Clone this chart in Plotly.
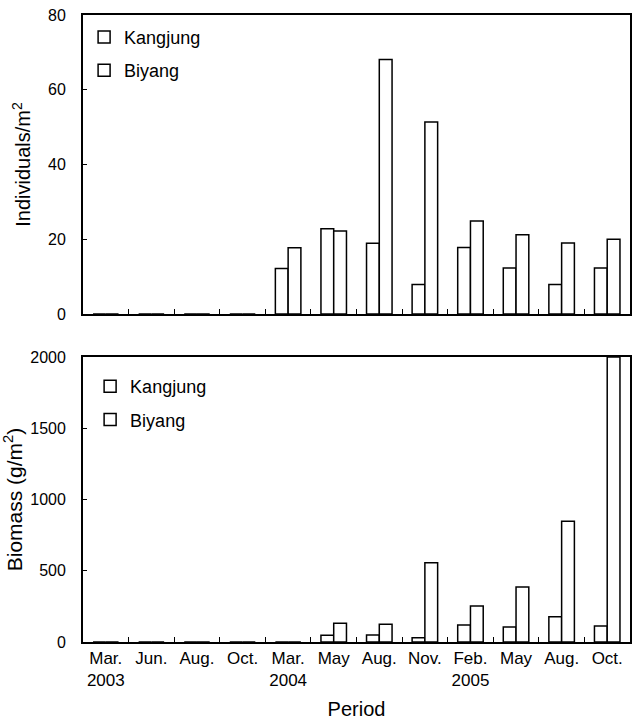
import plotly.graph_objects as go
from plotly.subplots import make_subplots

periods = ["Mar. 2003", "Jun. 2003", "Aug. 2003", "Oct. 2003", "Mar. 2004", "May 2004",
           "Aug. 2004", "Nov. 2004", "Feb. 2005", "May 2005", "Aug. 2005", "Oct. 2005"]
tick_labels = ["Mar.<br>2003", "Jun.", "Aug.", "Oct.", "Mar.<br>2004", "May",
               "Aug.", "Nov.", "Feb.<br>2005", "May", "Aug.", "Oct."]

density_kangjung = [0, 0, 0, 0, 12.2, 22.8, 18.9, 7.9, 17.8, 12.3, 7.9, 12.3]
density_biyang = [0, 0, 0, 0, 17.7, 22.2, 68.1, 51.4, 24.9, 21.2, 19.0, 20.0]

biomass_kangjung = [0, 0, 0, 0, 0, 47, 49, 30, 119, 105, 178, 112]
biomass_biyang = [0, 0, 0, 0, 0, 131, 124, 557, 253, 386, 847, 2000]

FONT = "Liberation Sans, Arial, sans-serif"

fig = make_subplots(rows=2, cols=1, shared_xaxes=False, vertical_spacing=0.0)

bar_style = dict(marker=dict(color="white", line=dict(color="black", width=1.5)))

fig.add_trace(go.Bar(x=periods, y=density_kangjung, name="Kangjung", legend="legend",
                     legendgroup="k1", **bar_style), row=1, col=1)
fig.add_trace(go.Bar(x=periods, y=density_biyang, name="Biyang", legend="legend",
                     legendgroup="b1", **bar_style), row=1, col=1)
fig.add_trace(go.Bar(x=periods, y=biomass_kangjung, name="Kangjung", legend="legend2",
                     legendgroup="k2", **bar_style), row=2, col=1)
fig.add_trace(go.Bar(x=periods, y=biomass_biyang, name="Biyang", legend="legend2",
                     legendgroup="b2", **bar_style), row=2, col=1)

axis_common = dict(showline=True, linecolor="black", linewidth=1.8, mirror=True,
                   showgrid=False, zeroline=False,
                   tickfont=dict(family=FONT, size=16, color="black"))

fig.update_xaxes(**axis_common, type="category", categoryorder="array", categoryarray=periods,
                 tickmode="array", tickvals=periods, ticktext=tick_labels,
                 ticks="inside", tickson="boundaries", ticklen=5, tickwidth=1.2,
                 tickcolor="black", tickangle=0)
fig.update_xaxes(tickfont=dict(family=FONT, size=17, color="black"))
fig.update_xaxes(showticklabels=False, row=1, col=1)
fig.update_xaxes(title=dict(text="Period", font=dict(family=FONT, size=20, color="black"),
                            standoff=15), row=2, col=1)

fig.update_yaxes(**axis_common, ticks="inside", ticklen=4, tickwidth=1.2, tickcolor="black",
                 ticklabelstandoff=12)
fig.update_yaxes(range=[0, 80], tickvals=[0, 20, 40, 60, 80],
                 domain=[0.5231, 1.0],
                 title=dict(text="Individuals/m<sup>2</sup>",
                            font=dict(family=FONT, size=20, color="black"), standoff=12),
                 row=1, col=1)
fig.update_yaxes(range=[0, 2000], tickvals=[0, 500, 1000, 1500, 2000],
                 domain=[0.0, 0.4545],
                 title=dict(text="Biomass (g/m<sup>2</sup>)",
                            font=dict(family=FONT, size=21, color="black"), standoff=8),
                 row=2, col=1)

legend_common = dict(bgcolor="rgba(0,0,0,0)", borderwidth=0,
                     font=dict(family=FONT, size=18, color="black"),
                     xanchor="left", yanchor="top", traceorder="grouped",
                     tracegroupgap=7, itemwidth=30)

fig.update_layout(
    width=633, height=720,
    margin=dict(l=83, r=1, t=15, b=78),
    paper_bgcolor="white", plot_bgcolor="white",
    barmode="group", bargap=0.44, bargroupgap=0.0,
    font=dict(family=FONT, size=16, color="black"),
    legend=dict(**legend_common, x=0.002, y=0.994),
    legend2=dict(**legend_common, x=0.013, y=0.437),
    showlegend=True,
)

fig.write_html("out.html", config={"displayModeBar": False},
               post_script="document.body.style.margin='0';document.body.style.overflow='hidden';")
